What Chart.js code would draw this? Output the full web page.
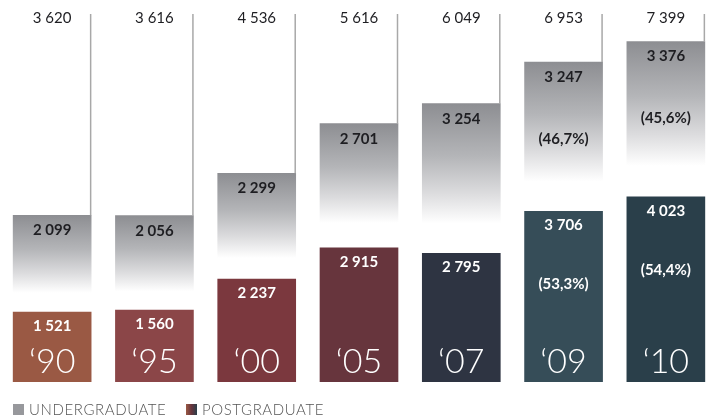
<!DOCTYPE html>
<html>
<head>
<meta charset="utf-8">
<script src="https://cdn.jsdelivr.net/npm/chart.js@4"></script>
<style>
  html,body{margin:0;padding:0;background:#fff;overflow:hidden}
  #wrap{position:relative;width:718px;height:419px}
</style>
</head>
<body>
<div id="wrap"><canvas id="c"></canvas></div>
<script>
/* Students by level, 1990-2010 */
const years=['‘90','‘95','‘00','‘05','‘07','‘09','‘10'];
const undergraduate=[2099,2056,2299,2701,3254,3247,3376];
const postgraduate=[1521,1560,2237,2915,2795,3706,4023];
const totals=[3620,3616,4536,5616,6049,6953,7399];
const ugShare=[null,null,null,null,null,46.7,45.6];
const pgShare=[null,null,null,null,null,53.3,54.4];
const pgColors=['#9a5944','#8b4648','#7b383e','#67353d','#2e3442','#364d58','#2a3f4a'];
const ugTop='#8d8e92';

function fmt(n){return String(n).replace(/\B(?=(\d{3})+(?!\d))/g,' ');}
function pct(v){return '('+v.toFixed(1).replace('.',',')+'%)';}

function ugGradient(c){
  const chart=c.chart;const area=chart.chartArea;
  if(!area)return ugTop;
  const y=chart.scales.y;const i=c.dataIndex;
  const top=y.getPixelForValue(postgraduate[i]+undergraduate[i]);
  const bot=y.getPixelForValue(postgraduate[i]);
  const g=chart.ctx.createLinearGradient(0,top,0,bot);
  g.addColorStop(0,ugTop);g.addColorStop(0.35,'#b4b5b8');g.addColorStop(0.6,'#dcdcde');
  g.addColorStop(0.8,'#ffffff');g.addColorStop(1,'#ffffff');
  return g;
}

const labelsPlugin={
  id:'labels',
  afterDatasetsDraw(chart){
    const ctx=chart.ctx;const pg=chart.getDatasetMeta(0).data;const ug=chart.getDatasetMeta(1).data;
    ctx.save();ctx.textAlign='center';ctx.textBaseline='alphabetic';
    years.forEach(function(yr,i){
      const p=pg[i],u=ug[i];const right=u.x+u.width/2-0.5;
      ctx.strokeStyle='#a8a8a8';ctx.lineWidth=1.5;
      ctx.beginPath();ctx.moveTo(right,14);ctx.lineTo(right,u.y);ctx.stroke();
      ctx.fillStyle='#1e1e22';ctx.font='400 15px Lato';
      ctx.fillText(fmt(totals[i]),u.x,23);
      ctx.font='700 15px Lato';
      ctx.fillText(fmt(undergraduate[i]),u.x,u.y+20);
      if(ugShare[i]!=null)ctx.fillText(pct(ugShare[i]),u.x,u.y+82);
      ctx.fillStyle='#fff';
      ctx.fillText(fmt(postgraduate[i]),p.x,p.y+19);
      if(pgShare[i]!=null)ctx.fillText(pct(pgShare[i]),p.x,p.y+78);
      ctx.font='300 34px Lato';
      ctx.fillText(yr,p.x,p.base-9);
    });
    ctx.restore();
  },
  afterDraw(chart){
    const ctx=chart.ctx;ctx.save();
    ctx.fillStyle='#97989c';ctx.fillRect(13,404,11,11);
    const g=ctx.createLinearGradient(186,0,197,0);
    g.addColorStop(0,'#9a5944');g.addColorStop(0.5,'#67353d');g.addColorStop(1,'#2a3f4a');
    ctx.fillStyle=g;ctx.fillRect(186,404,11,11);
    ctx.fillStyle='#555';ctx.font='300 15px Lato';ctx.textBaseline='alphabetic';ctx.textAlign='left';
    ctx.letterSpacing='0.6px';
    ctx.fillText('UNDERGRADUATE',29,415);
    ctx.fillText('POSTGRADUATE',202,415);
    ctx.restore();
  }
};

new Chart(document.getElementById('c'),{
  type:'bar',
  data:{labels:years,datasets:[
    {label:'POSTGRADUATE',data:postgraduate,backgroundColor:pgColors,barThickness:78,borderWidth:0},
    {label:'UNDERGRADUATE',data:undergraduate,backgroundColor:ugGradient,barThickness:78,borderWidth:0}
  ]},
  options:{responsive:true,maintainAspectRatio:false,animation:false,
    layout:{padding:{left:1,right:1,top:0,bottom:37}},
    scales:{x:{stacked:true,display:false,grid:{display:false}},
            y:{stacked:true,display:false,min:0,max:8300}},
    plugins:{legend:{display:false},tooltip:{enabled:false}}},
  plugins:[labelsPlugin]
});
</script>
</body>
</html>
